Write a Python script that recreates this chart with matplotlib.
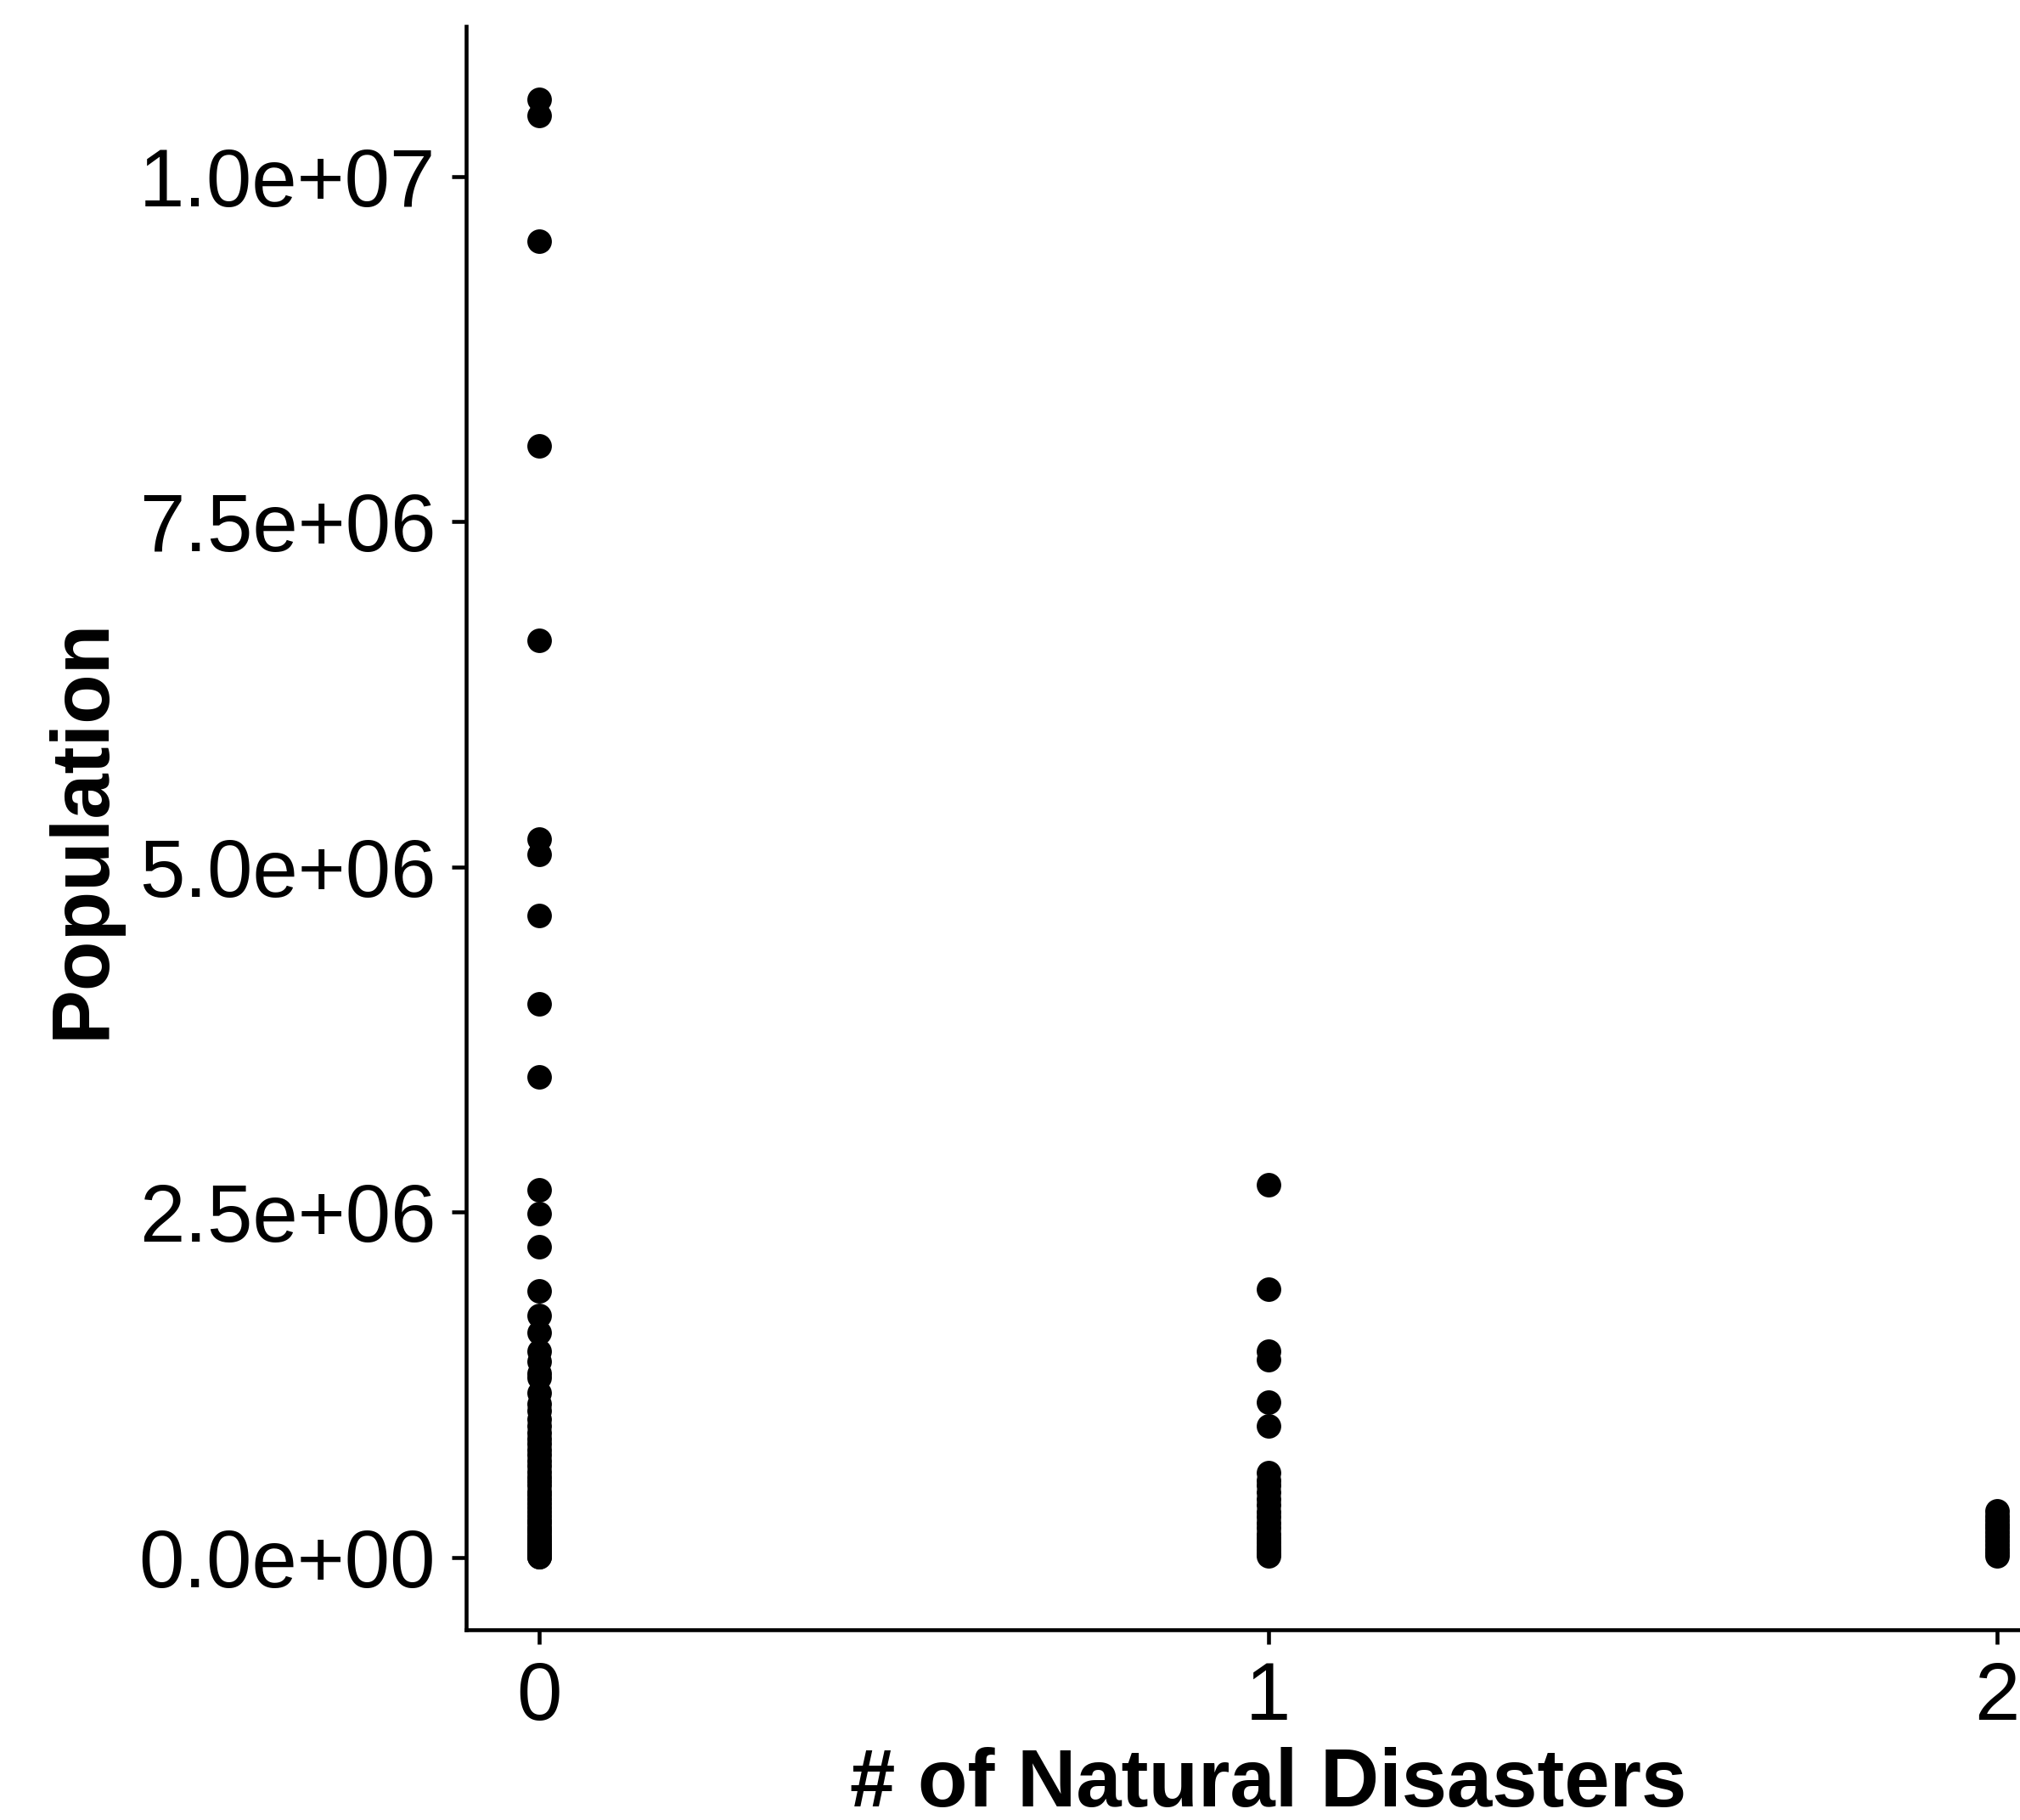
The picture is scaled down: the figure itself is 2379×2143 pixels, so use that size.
import matplotlib
matplotlib.use("Agg")
import matplotlib.pyplot as plt
import numpy as np

# Population values per number of natural disasters
pop_0 = [
    10.56e6, 10.44e6, 9.53e6, 8.05e6, 6.64e6, 5.20e6, 5.09e6, 4.65e6,
    4.01e6, 3.48e6, 2.66e6, 2.49e6, 2.25e6, 1.93e6, 1.75e6, 1.63e6,
    1.49e6, 1.42e6, 1.33e6, 1.30e6, 1.19e6, 1.11e6, 1.06e6,
    1.00e6, 0.95e6, 0.90e6, 0.86e6, 0.82e6, 0.78e6, 0.74e6, 0.70e6,
    0.66e6, 0.62e6, 0.58e6, 0.55e6, 0.52e6, 0.48e6, 0.45e6, 0.42e6,
    0.39e6, 0.36e6, 0.33e6, 0.30e6, 0.27e6, 0.25e6, 0.22e6, 0.20e6,
    0.18e6, 0.16e6, 0.14e6, 0.12e6, 0.10e6, 0.085e6, 0.07e6, 0.055e6,
    0.04e6, 0.03e6, 0.02e6, 0.012e6, 0.006e6, 0.002e6,
]
pop_1 = [
    2.70e6, 1.94e6, 1.49e6, 1.43e6, 1.12e6, 0.95e6,
    0.61e6, 0.56e6, 0.52e6, 0.47e6, 0.42e6, 0.38e6, 0.33e6, 0.29e6,
    0.25e6, 0.21e6, 0.17e6, 0.14e6, 0.11e6, 0.08e6, 0.05e6, 0.03e6, 0.01e6,
]
pop_2 = [
    0.335e6, 0.30e6, 0.27e6, 0.24e6, 0.21e6, 0.18e6, 0.15e6, 0.12e6,
    0.09e6, 0.06e6, 0.035e6, 0.01e6,
]
disasters = [0, 1, 2]

y_ticks = [0, 2.5e6, 5.0e6, 7.5e6, 1.0e7]
y_tick_labels = ["0.0e+00", "2.5e+06", "5.0e+06", "7.5e+06", "1.0e+07"]

plt.rcParams["font.family"] = ["Liberation Sans", "DejaVu Sans"]

fig = plt.figure(figsize=(2379 / 300, 2143 / 300), dpi=300)
# panel runs past the right edge, as in the reference
ax = fig.add_axes([0.2308, 0.1045, 0.7940, 0.8810])

for n, pops in zip(disasters, [pop_0, pop_1, pop_2]):
    ax.scatter(np.full(len(pops), n), pops, s=48, color="black",
               linewidths=0, zorder=3)

all_pop = pop_0 + pop_1 + pop_2
ymin, ymax = min(all_pop), max(all_pop)
pad = 0.05 * (ymax - ymin)
ax.set_ylim(ymin - pad, ymax + pad)
ax.set_xlim(-0.1, 2.1)

ax.set_xticks(disasters)
ax.set_xticklabels([str(d) for d in disasters])
ax.set_yticks(y_ticks)
ax.set_yticklabels(y_tick_labels)

for side in ["top", "right"]:
    ax.spines[side].set_visible(False)
for side in ["left", "bottom"]:
    ax.spines[side].set_linewidth(1.1)
    ax.spines[side].set_color("black")

ax.tick_params(axis="both", length=4.1, width=1.1, color="black",
               labelsize=23, labelcolor="black", pad=4.5)

ax.set_xlabel("# of Natural Disasters", fontsize=23, fontweight="bold", labelpad=3)
ax.set_ylabel("Population", fontsize=23, fontweight="bold", labelpad=5)

fig.savefig("out.png", dpi=300)
